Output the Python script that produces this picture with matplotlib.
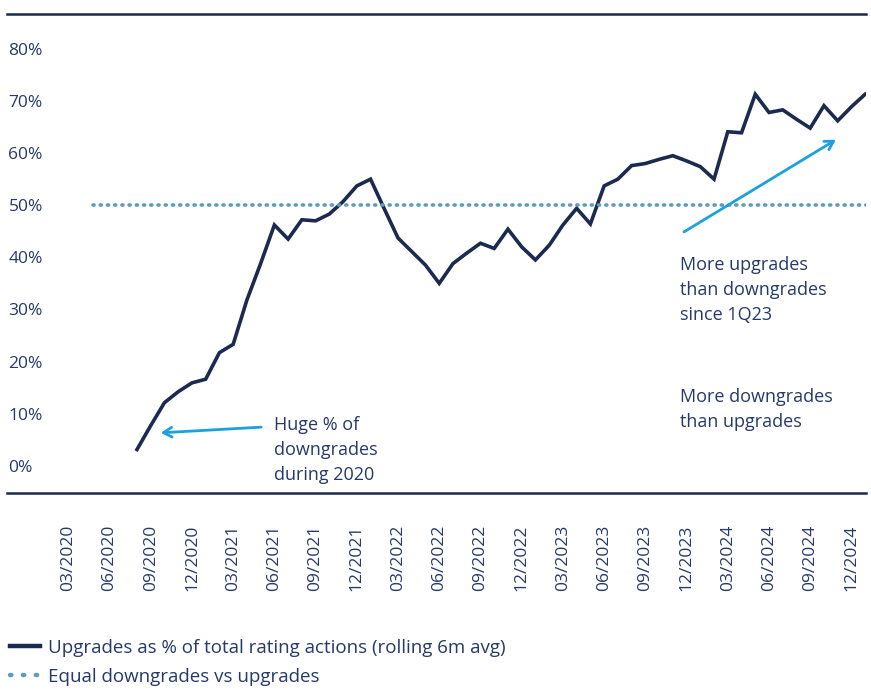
import matplotlib
matplotlib.use('Agg')
import matplotlib.pyplot as plt
from matplotlib import font_manager as fm
from matplotlib.lines import Line2D

# month index: 0 = 03/2020
months = list(range(5, 59))  # 08/2020 .. 01/2025
upgrades_pct = [3.1, 7.7, 12.1, 14.2, 15.9, 16.6, 21.7, 23.3, 31.8, 38.8,
                46.2, 43.5, 47.2, 47.0, 48.3, 50.7, 53.7, 55.0, 49.3, 43.7,
                41.1, 38.5, 35.0, 38.8, 40.8, 42.7, 41.7, 45.4, 42.0, 39.5,
                42.3, 46.2, 49.4, 46.4, 53.7, 55.0, 57.6, 58.0, 58.8, 59.5,
                58.5, 57.4, 55.0, 64.1, 63.9, 71.3, 67.8, 68.3, 66.5, 64.8,
                69.1, 66.2, 68.9, 71.3]
equal_level = 50
tick_months = list(range(0, 58, 3))
tick_labels = ['03/2020', '06/2020', '09/2020', '12/2020', '03/2021', '06/2021',
               '09/2021', '12/2021', '03/2022', '06/2022', '09/2022', '12/2022',
               '03/2023', '06/2023', '09/2023', '12/2023', '03/2024', '06/2024',
               '09/2024', '12/2024']
y_ticks = [0, 10, 20, 30, 40, 50, 60, 70, 80]

navy = '#1b2a4e'
text_col = '#27396a'
dot_col = '#5b9cc0'
arrow_col = '#1ba1db'

names = {f.name for f in fm.fontManager.ttflist}
main_font = 'Open Sans' if 'Open Sans' in names else 'DejaVu Sans'
plt.rcParams['font.family'] = [main_font, 'DejaVu Sans']

W, H = 871, 697
fig = plt.figure(figsize=(W / 100, H / 100), dpi=100)
ax = fig.add_axes([7 / W, (H - 493) / H, (866 - 7) / W, (493 - 14) / H])

ax.plot(months, upgrades_pct, color=navy, lw=2.6, solid_joinstyle='miter',
        label='Upgrades as % of total rating actions (rolling 6m avg)')
ax.plot([1.8, 58.1], [equal_level, equal_level], color=dot_col, lw=2.6,
        linestyle=(0, (0.3, 1.7)), dash_capstyle='round',
        label='Equal downgrades vs upgrades')

ax.set_xlim(-4.46, 58.06)
ax.set_ylim(-5.24, 86.7)

for s in ['left', 'right']:
    ax.spines[s].set_visible(False)
for s in ['top', 'bottom']:
    ax.spines[s].set_color(navy)
    ax.spines[s].set_linewidth(1.8)

ax.set_xticks(tick_months)
ax.set_xticklabels(tick_labels, rotation=90, fontsize=12.5, color=text_col)
ax.tick_params(axis='x', length=0, pad=23)

ax.set_yticks(y_ticks)
ax.set_yticklabels([f'{v}%' for v in y_ticks], fontsize=12.5, color=text_col)
ax.tick_params(axis='y', length=0, pad=-1)
for lbl in ax.get_yticklabels():
    lbl.set_ha('left')

# annotations
arrow = dict(arrowstyle='->,head_length=0.6,head_width=0.35', color=arrow_col, lw=2)
ax.annotate('', xy=(6.53, 6.28), xytext=(14.24, 7.43), arrowprops=arrow)
ax.text(14.97, 9.5, 'Huge % of\ndowngrades\nduring 2020', ha='left', va='top',
        fontsize=13, color=text_col, linespacing=1.5)

ax.annotate('', xy=(56.04, 62.84), xytext=(44.64, 44.6), arrowprops=arrow)
ax.text(44.5, 40.3, 'More upgrades\nthan downgrades\nsince 1Q23', ha='left', va='top',
        fontsize=13, color=text_col, linespacing=1.5)
ax.text(44.55, 15.0, 'More downgrades\nthan upgrades', ha='left', va='top',
        fontsize=13, color=text_col, linespacing=1.5)

# legend
h_line = Line2D([], [], color=navy, lw=3.2)
h_dot = Line2D([], [], color=dot_col, lw=3.2, linestyle=(0, (0.3, 2.6)),
               dash_capstyle='round')
leg = fig.legend([h_line, h_dot],
                 ['Upgrades as % of total rating actions (rolling 6m avg)',
                  'Equal downgrades vs upgrades'],
                 loc='upper left', bbox_to_anchor=(4 / W, (H - 633) / H),
                 frameon=False, handlelength=1.6, handletextpad=0.45,
                 labelspacing=0.6, borderaxespad=0, borderpad=0.3,
                 prop={'size': 13.5})
for t in leg.get_texts():
    t.set_color(text_col)

fig.savefig('out.png', dpi=100)
